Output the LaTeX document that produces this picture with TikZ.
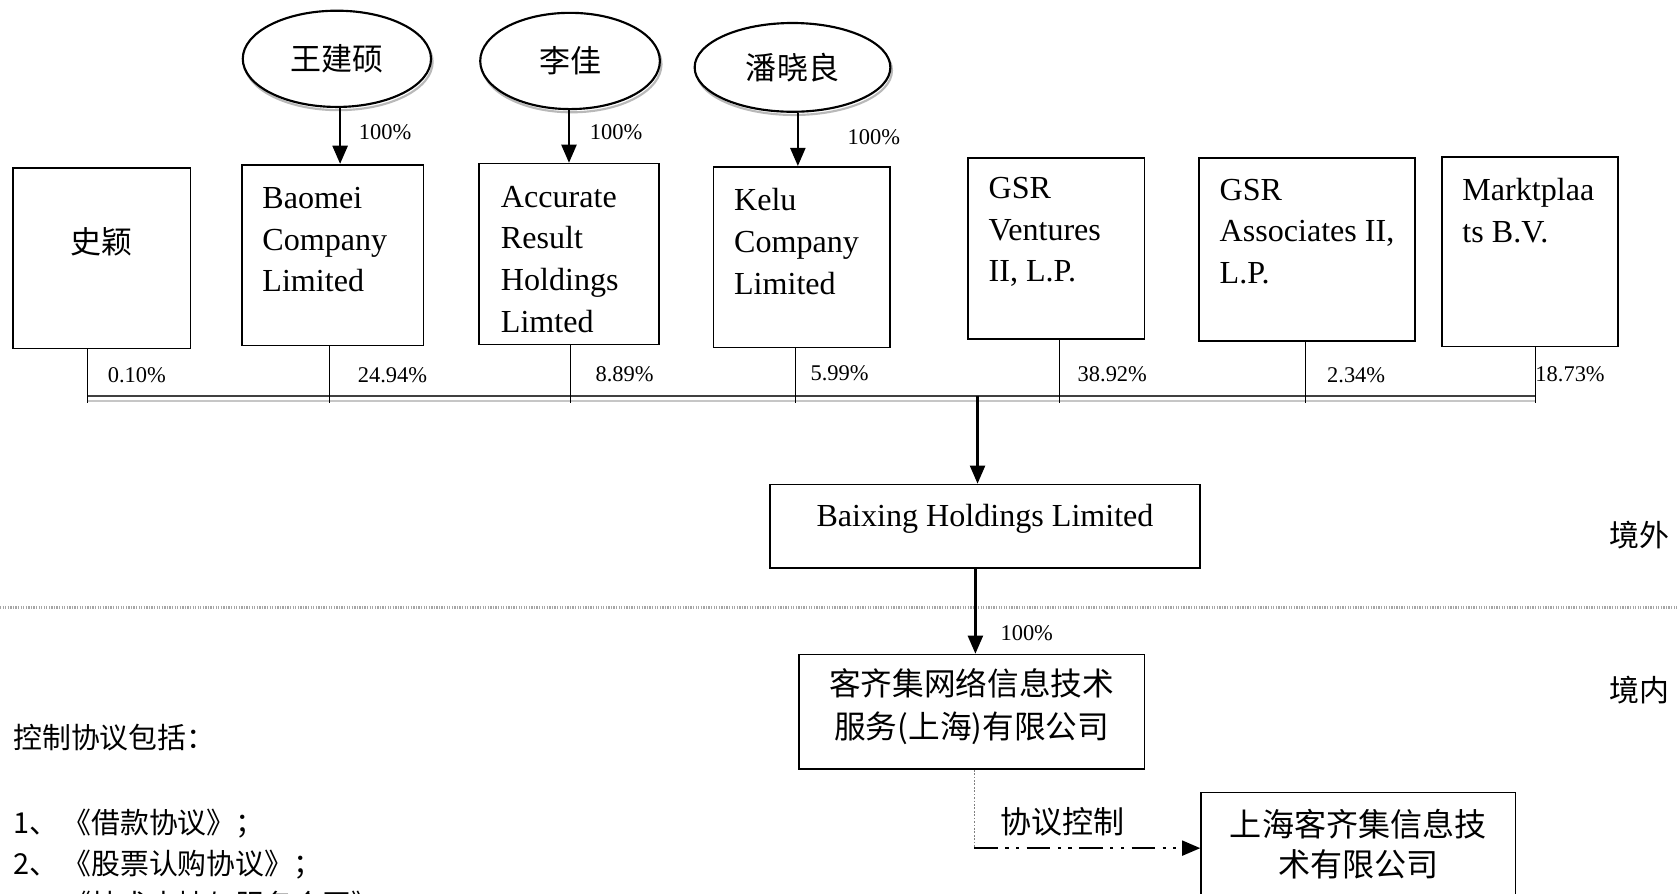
\documentclass[tikz,border=0pt]{standalone}
\usepackage{fontspec}
\setmainfont{Liberation Serif}
\newfontfamily\cjk{Noto Sans CJK SC}
\usetikzlibrary{shapes.geometric,arrows.meta,calc}
\begin{document}
\begin{tikzpicture}[x=0.5pt,y=-0.5pt,
  box/.style={draw, line width=0.75pt, inner sep=0pt},
  oval/.style={ellipse, draw, line width=1pt, inner sep=0pt},
  ovalsh/.style={ellipse, draw=gray!55, line width=1pt, inner sep=0pt},
  en/.style={font=\fontsize{15}{19.5}\selectfont, align=left, inner sep=0pt, anchor=west},
  zh/.style={font=\cjk\fontsize{14.5}{20}\selectfont, inner sep=0pt},
  zhl/.style={font=\cjk\fontsize{13.5}{19}\selectfont, inner sep=0pt, anchor=west},
  pct/.style={font=\fontsize{10.5}{12}\selectfont, inner sep=0pt},
  arr/.style={-{Triangle[length=8.5pt,width=7pt]}, line width=1.2pt},
  ctrl/.style={-{Triangle[length=8.5pt,width=7pt]}, line width=1pt,
     dash pattern=on 11pt off 3.5pt on 1.5pt off 3.5pt on 1.5pt off 3.5pt},
  divider/.style={gray!70, line width=1pt, dash pattern=on 0.6pt off 0.6pt},
]
\useasboundingbox (0,0) rectangle (1568,835);

% divider between offshore / onshore
\coordinate (dl) at (0,568);
\coordinate (dr) at (1568,568);
\draw[divider] (dl) -- (dr);
\node[zh, font=\cjk\fontsize{14}{18}\selectfont] (jingwai) at (1533,500) {境外};
\node[zh, font=\cjk\fontsize{14}{18}\selectfont] (jingnei) at (1533,645) {境内};

% ellipses (individuals)
\node[ovalsh, minimum width=88pt, minimum height=45pt] (wangsh) at (316.5,58) {};
\node[oval, fill=white, minimum width=88pt, minimum height=45pt] (wang) at (315,55) {};
\node[zh] (wangT) at (315,55) {王建硕};
\node[ovalsh, minimum width=84pt, minimum height=45pt] (lish) at (534.5,60) {};
\node[oval, fill=white, minimum width=84pt, minimum height=45pt] (li) at (533,57) {};
\node[zh] (liT) at (533,57) {李佳};
\node[ovalsh, minimum width=91.5pt, minimum height=41.5pt] (pansh) at (742.5,66) {};
\node[oval, fill=white, minimum width=91.5pt, minimum height=41.5pt] (pan) at (741,63) {};
\node[zh] (panT) at (741,63) {潘晓良};

% shareholder boxes
\node[box, minimum width=83pt, minimum height=84.5pt] (shiying) at (95,241.5) {};
\node[zh] (shiyingT) at (95,226) {史颖};
\node[box, minimum width=85pt, minimum height=84.5pt] (baomei) at (311,238.5) {};
\node[en] (baomeiT) at (245,224) {Baomei\\Company\\Limited};
\node[box, minimum width=84pt, minimum height=84.5pt] (accurate) at (532,237.5) {};
\node[en] (accurateT) at (468,242.5) {Accurate\\Result\\Holdings\\Limted};
\node[box, minimum width=82.5pt, minimum height=84.5pt] (kelu) at (749.5,240.5) {};
\node[en] (keluT) at (686,226) {Kelu\\Company\\Limited};
\node[box, minimum width=82.5pt, minimum height=84.5pt] (gsrv) at (987.5,232.5) {};
\node[en] (gsrvT) at (924,217) {GSR\\Ventures\\II, L.P.};
\node[box, minimum width=101pt, minimum height=85.5pt] (gsra) at (1222,233.5) {};
\node[en] (gsraT) at (1140,216.5) {GSR\\Associates II,\\L.P.};
\node[box, minimum width=82.5pt, minimum height=88.5pt] (markt) at (1430.5,235.5) {};
\node[en] (marktT) at (1367,197) {Marktplaa\\ts B.V.};

% 100% arrows from individuals
\coordinate (a1) at (318,0);
\coordinate (a2) at (532,0);
\coordinate (a3) at (746,0);
\draw[arr] (a1 |- wang.south) -- (a1 |- baomei.north);
\draw[arr] (a2 |- li.south) -- (a2 |- accurate.north);
\draw[arr] (a3 |- pan.south) -- (a3 |- kelu.north);
\node[pct] (p1) at (360,124) {100\%};
\node[pct] (p2) at (576,124) {100\%};
\node[pct] (p3) at (817,128) {100\%};

% bus line
\coordinate (t1) at (82,370);
\coordinate (t2) at (308,370);
\coordinate (t3) at (533,370);
\coordinate (t4) at (744,370);
\coordinate (t5) at (991,370);
\coordinate (t6) at (1221,370);
\coordinate (t7) at (1436,370);
\draw[line width=0.9pt, black!75] (t1) -- (t7);
\draw[line width=0.6pt, gray!45] ($(t1)+(0,5)$) -- ($(t7)+(0,5)$);
\foreach \t/\b in {t1/shiying,t2/baomei,t3/accurate,t4/kelu,t5/gsrv,t6/gsra,t7/markt}
  \draw[line width=0.5pt] (\t |- \b.south) -- ($(\t)+(0,7)$);
\node[pct] (q1) at (128,351) {0.10\%};
\node[pct] (q2) at (367,351) {24.94\%};
\node[pct] (q3) at (584,350) {8.89\%};
\node[pct] (q4) at (785,349) {5.99\%};
\node[pct] (q5) at (1040,350) {38.92\%};
\node[pct] (q6) at (1268,351) {2.34\%};
\node[pct] (q7) at (1468,350) {18.73\%};

% Baixing
\node[box, minimum width=201pt, minimum height=39pt] (baixing) at (921,492) {};
\node[font=\fontsize{15}{19.5}\selectfont, inner sep=0pt] (baixingT) at (921,485) {Baixing Holdings Limited};
\coordinate (bx) at (914,370);
\draw[arr] (bx) -- (bx |- baixing.north);

% WFOE
\node[box, minimum width=161.5pt, minimum height=53.5pt] (keqiji) at (908.5,665.5) {};
\node[zh, font=\cjk\fontsize{14.8}{20}\selectfont, align=center] (keqijiT) at (908.5,661) {客齐集网络信息技术\\服务(上海)有限公司};
\coordinate (ky) at (912,0);
\draw[arr] (ky |- baixing.south) -- (ky |- keqiji.north);
\node[pct] (p4) at (960,592) {100\%};

% VIE
\node[box, minimum width=147pt, minimum height=54.5pt] (shanghai) at (1270,795.5) {};
\node[zh, font=\cjk\fontsize{15}{18.5}\selectfont, align=center] (shanghaiT) at (1270,789.5) {上海客齐集信息技\\术有限公司};
\coordinate (corner) at (911,793);
\draw[gray, line width=0.6pt, dash pattern=on 0.8pt off 0.8pt] (corner |- keqiji.south) -- (corner);
\draw[ctrl] (corner) -- (corner -| shanghai.west);
\node[zh] (xieyi) at (993,768) {协议控制};

% notes
\node[zhl] (note0) at (12,690) {控制协议包括：};
\node[zhl] (note1) at (12,770) {1、\hspace{2pt}《借款协议》；};
\node[zhl] (note2) at (12,808) {2、\hspace{2pt}《股票认购协议》；};
\node[zhl] (note3) at (12,846) {3、\hspace{2pt}《技术支持与服务合同》};
\end{tikzpicture}
\end{document}
